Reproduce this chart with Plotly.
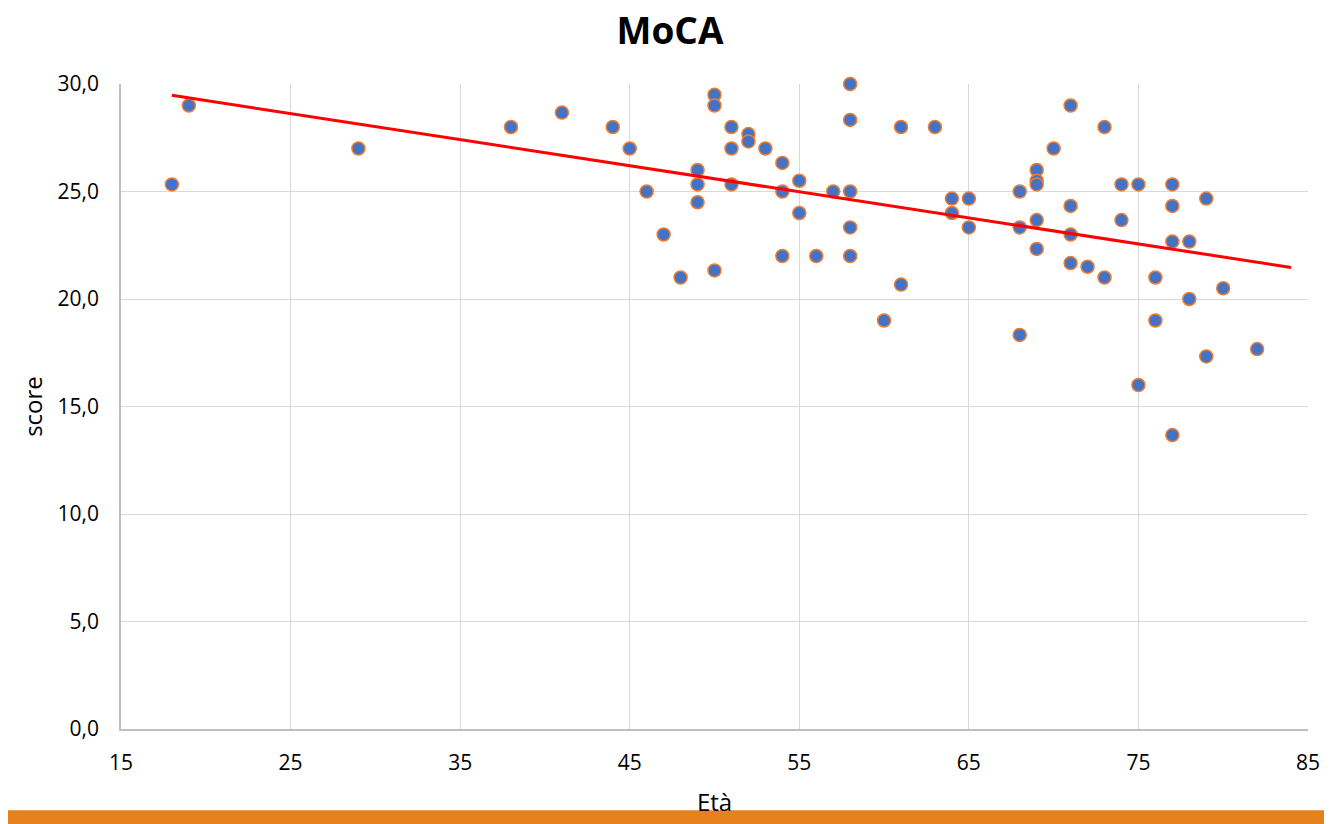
import numpy as np
import plotly.graph_objects as go

# Età (age) and MoCA score
eta = [18, 19, 29, 38, 41, 44, 45, 46, 47, 48,
       49, 49, 49, 50, 50, 50, 51, 51, 51, 52,
       52, 53, 54, 54, 54, 55, 55, 56, 57, 58,
       58, 58, 58, 58, 60, 61, 61, 63, 64, 64,
       65, 65, 68, 68, 68, 69, 69, 69, 69, 69,
       70, 71, 71, 71, 71, 72, 73, 73, 74, 74,
       75, 75, 76, 76, 77, 77, 77, 77, 78, 78,
       79, 79, 80, 82]
score = [25.33, 29.0, 27.0, 28.0, 28.67, 28.0, 27.0, 25.0, 23.0, 21.0,
         26.0, 25.33, 24.5, 29.5, 29.0, 21.33, 28.0, 27.0, 25.33, 27.67,
         27.33, 27.0, 26.33, 25.0, 22.0, 25.5, 24.0, 22.0, 25.0, 30.0,
         28.33, 25.0, 23.33, 22.0, 19.0, 28.0, 20.67, 28.0, 24.67, 24.0,
         24.67, 23.33, 25.0, 23.33, 18.33, 26.0, 25.5, 25.33, 23.67, 22.33,
         27.0, 29.0, 24.33, 23.0, 21.67, 21.5, 28.0, 21.0, 25.33, 23.67,
         25.33, 16.0, 21.0, 19.0, 25.33, 24.33, 22.67, 13.67, 22.67, 20.0,
         24.67, 17.33, 20.5, 17.67]

x_ticks = [15, 25, 35, 45, 55, 65, 75, 85]
y_ticks = [0, 5, 10, 15, 20, 25, 30]

# linear trendline (Excel style, forecast forward 2)
slope, intercept = np.polyfit(eta, score, 1)
trend_x = np.array([min(eta), max(eta) + 2])
trend_y = slope * trend_x + intercept

fig = go.Figure()

fig.add_trace(go.Scatter(
    x=eta, y=score, mode='markers',
    marker=dict(size=13, color='#4472C4', line=dict(color='#ED7D31', width=1.5)),
    showlegend=False, cliponaxis=False
))

fig.add_trace(go.Scatter(
    x=trend_x, y=trend_y, mode='lines',
    line=dict(color='#FF0000', width=3),
    showlegend=False
))

# orange band along the bottom edge
fig.add_shape(type='rect', xref='paper', yref='paper',
              x0=-0.2, x1=1.05, y0=-0.126, y1=-0.16,
              fillcolor='#E6821E', line=dict(width=0), layer='below')

# page body keeps an 8px margin, so the figure is 8px smaller than the window
fig.update_layout(
    width=1324, height=816,
    title=dict(text='<b>MoCA</b>', x=0.5, xanchor='center', y=0.972, yanchor='middle',
               font=dict(size=37, color='#000000', family='Open Sans')),
    font=dict(family='Open Sans', size=21, color='#000000'),
    separators=',.',
    plot_bgcolor='white', paper_bgcolor='white',
    margin=dict(l=113, r=16, t=76, b=89),
    xaxis=dict(
        range=[15, 85], tickvals=x_ticks, showgrid=True, gridcolor='#D9D9D9',
        gridwidth=1, zeroline=False, showline=True, linecolor='#BFBFBF',
        linewidth=1.5, ticks='', ticklabelstandoff=14,
        title=dict(text='Età', standoff=19, font=dict(size=24))
    ),
    yaxis=dict(
        range=[0, 30], tickvals=y_ticks, tickformat='.1f', showgrid=True,
        gridcolor='#D9D9D9', gridwidth=1, zeroline=False, showline=True,
        linecolor='#BFBFBF', linewidth=1.5, ticks='', ticklabelstandoff=16,
        title=dict(text='score', standoff=8, font=dict(size=24))
    )
)

fig.write_html('out.html')
